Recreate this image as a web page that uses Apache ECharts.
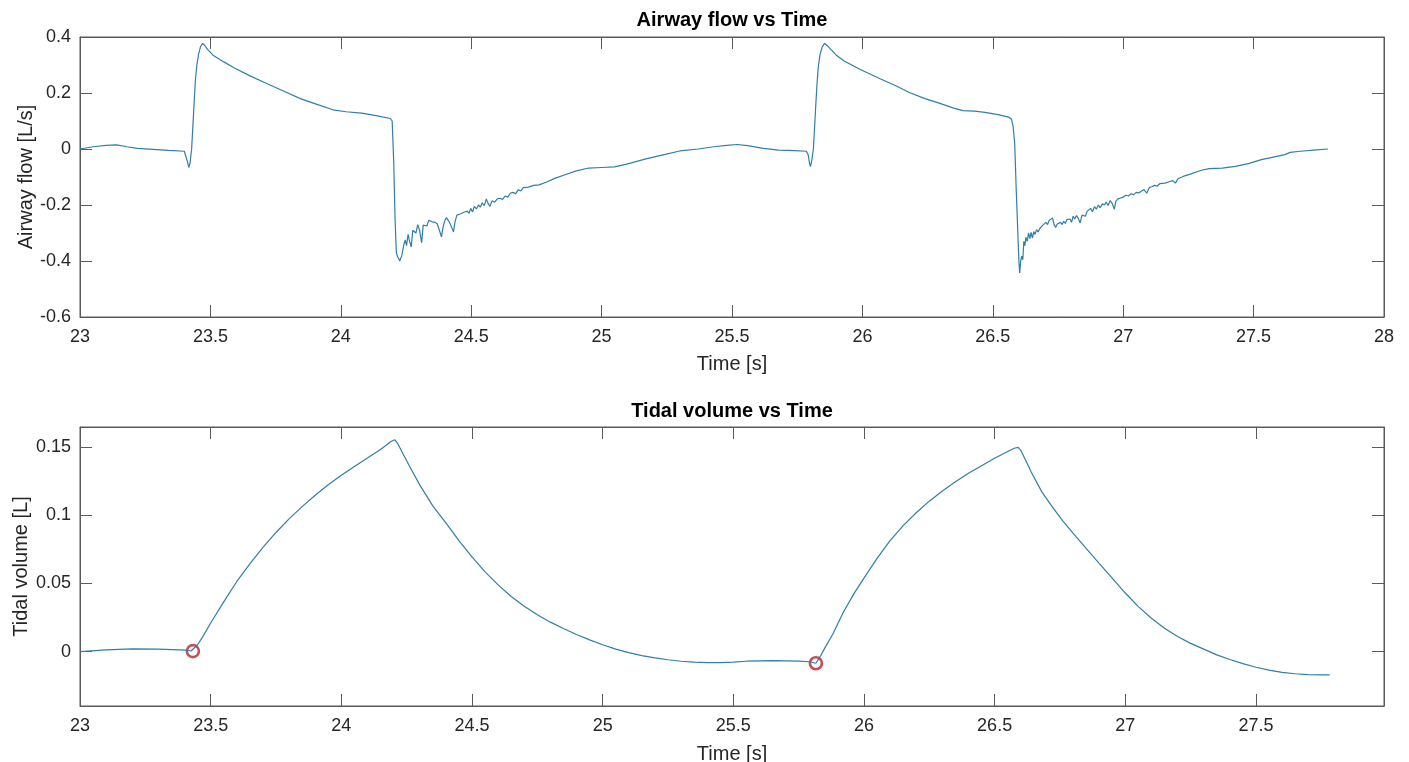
<!DOCTYPE html>
<html>
<head>
<meta charset="utf-8">
<script src="https://cdn.jsdelivr.net/npm/echarts@6/dist/echarts.min.js"></script>
<style>
html,body{margin:0;padding:0;background:#fff;}
#chart{width:1409px;height:762px;}
</style>
</head>
<body>
<div id="chart"></div>
<script>
// ---------- DATA ----------
const flowTime = [
23.00,23.05,23.10,23.14,23.18,23.22,23.28,23.34,23.40,23.405,23.412,23.417,23.422,23.428,23.435,23.442,23.448,23.455,23.462,23.47,
23.478,23.49,23.51,23.55,23.59,23.65,23.72,23.78,23.845,23.90,23.97,24.02,24.08,24.13,24.19,24.197,24.203,24.208,24.213,24.218,
24.226,24.234,24.242,24.247,24.252,24.258,24.264,24.270,24.276,24.282,24.288,24.295,24.302,24.310,24.316,24.322,24.330,24.337,24.343,24.350,
24.356,24.362,24.370,24.378,24.386,24.392,24.398,24.405,24.412,24.419,24.425,24.432,24.438,24.445,24.452,24.458,24.465,24.472,24.478,24.485,
24.492,24.498,24.505,24.512,24.52,24.528,24.535,24.542,24.55,24.558,24.565,24.572,24.58,24.59,24.60,24.61,24.62,24.63,24.64,24.65,
24.66,24.67,24.68,24.69,24.70,24.72,24.74,24.76,24.79,24.82,24.86,24.90,24.95,25.00,25.05,25.10,25.17,25.24,25.30,25.37,
25.43,25.48,25.52,25.56,25.62,25.68,25.74,25.785,
25.792,25.797,25.801,25.806,25.812,25.818,25.825,25.831,25.838,25.846,25.855,25.865,25.88,25.90,25.93,25.99,26.07,26.13,26.18,26.24,
26.30,26.35,26.385,26.43,26.47,26.52,26.56,26.572,26.578,26.584,26.59,26.596,26.600,26.603,26.607,26.611,26.615,26.619,26.623,26.627,
26.632,26.637,26.642,26.647,26.652,26.657,26.662,26.668,26.674,26.68,26.686,26.692,26.698,26.704,26.71,26.716,26.722,26.729,26.735,26.741,
26.747,26.753,26.76,26.766,26.772,26.778,26.784,26.79,26.796,26.802,26.808,26.814,26.821,26.828,26.835,26.842,26.848,26.855,26.862,26.868,
26.875,26.882,26.89,26.897,26.905,26.912,26.92,26.928,26.935,26.942,26.95,26.958,26.966,26.972,26.98,26.99,27.0,27.01,27.02,27.03,
27.04,27.05,27.06,27.07,27.08,27.09,27.10,27.11,27.12,27.13,27.14,27.16,27.18,27.19,27.2,27.21,27.23,27.26,27.30,27.33,
27.38,27.43,27.48,27.53,27.58,27.62,27.64,27.68,27.73,27.785
];
const flowValues = [
0.000,0.008,0.013,0.015,0.008,0.002,-0.001,-0.005,-0.008,-0.012,-0.045,-0.066,-0.05,0.0,0.12,0.24,0.30,0.34,0.365,0.377,
0.37,0.355,0.335,0.312,0.290,0.262,0.232,0.207,0.180,0.162,0.140,0.133,0.128,0.120,0.109,0.100,-0.05,-0.25,-0.37,-0.385,
-0.40,-0.38,-0.34,-0.325,-0.345,-0.305,-0.33,-0.35,-0.29,-0.283,-0.30,-0.27,-0.29,-0.335,-0.272,-0.265,-0.275,-0.255,-0.248,-0.26,
-0.255,-0.262,-0.268,-0.29,-0.314,-0.28,-0.258,-0.245,-0.255,-0.266,-0.27,-0.296,-0.26,-0.236,-0.24,-0.232,-0.238,-0.226,-0.232,-0.222,
-0.23,-0.212,-0.225,-0.205,-0.214,-0.2,-0.208,-0.192,-0.202,-0.178,-0.195,-0.205,-0.185,-0.19,-0.178,-0.176,-0.18,-0.168,-0.172,-0.158,
-0.155,-0.16,-0.146,-0.15,-0.138,-0.136,-0.13,-0.128,-0.118,-0.105,-0.092,-0.079,-0.068,-0.066,-0.064,-0.053,-0.035,-0.02,-0.007,0.0,
0.008,0.013,0.016,0.012,0.002,-0.004,-0.006,-0.008,
-0.02,-0.05,-0.063,-0.04,0.0,0.10,0.22,0.295,0.34,0.365,0.377,0.37,0.355,0.335,0.314,0.285,0.25,0.225,0.202,0.18,
0.162,0.146,0.137,0.135,0.131,0.123,0.114,0.106,0.08,0.02,-0.15,-0.30,-0.40,-0.443,-0.40,-0.383,-0.395,-0.33,-0.345,-0.315,
-0.33,-0.30,-0.32,-0.298,-0.318,-0.295,-0.305,-0.288,-0.296,-0.284,-0.29,-0.272,-0.276,-0.262,-0.27,-0.255,-0.262,-0.246,-0.27,-0.28,
-0.268,-0.275,-0.262,-0.27,-0.258,-0.266,-0.252,-0.258,-0.25,-0.262,-0.24,-0.25,-0.238,-0.248,-0.264,-0.236,-0.232,-0.24,-0.222,-0.228,
-0.212,-0.224,-0.206,-0.215,-0.2,-0.21,-0.196,-0.2,-0.19,-0.202,-0.184,-0.195,-0.215,-0.186,-0.178,-0.175,-0.172,-0.165,-0.168,-0.16,
-0.163,-0.155,-0.157,-0.15,-0.145,-0.158,-0.138,-0.135,-0.13,-0.133,-0.124,-0.122,-0.116,-0.113,-0.122,-0.106,-0.098,-0.089,-0.076,-0.07,
-0.068,-0.062,-0.052,-0.038,-0.028,-0.02,-0.012,-0.008,-0.004,0.0
];

const volTime = [
23.00,23.10,23.20,23.30,23.38,23.41,23.425,23.432,
23.45,23.47,23.50,23.55,23.60,23.65,23.70,23.75,23.80,23.85,23.90,23.95,24.00,24.05,24.10,24.15,24.19,24.205,
24.215,24.23,24.26,24.30,24.35,24.40,24.45,24.50,24.55,24.60,24.65,24.70,24.75,24.80,24.85,24.90,24.95,25.00,25.05,25.10,
25.15,25.20,25.25,25.30,25.35,25.40,25.45,25.50,25.55,25.60,25.65,25.70,25.75,25.79,25.816,
25.83,25.85,25.88,25.92,25.96,26.00,26.05,26.10,26.15,26.20,26.25,26.30,26.35,26.40,26.45,26.50,26.55,26.575,26.59,
26.60,26.615,26.64,26.68,26.72,26.76,26.80,26.85,26.90,26.95,27.00,27.05,27.10,27.15,27.20,27.25,27.30,27.35,27.40,27.45,
27.50,27.55,27.60,27.65,27.70,27.75,27.782
];
const volValues = [
0.0000,0.0012,0.0020,0.0018,0.0013,0.0010,0.0004,0.0003,
0.0050,0.0110,0.0210,0.0365,0.0515,0.0645,0.0765,0.0875,0.0975,0.1065,0.1148,0.1225,0.1295,0.1360,0.1422,0.1485,0.1543,0.1556,
0.1530,0.1475,0.1365,0.1225,0.1070,0.0945,0.0815,0.0695,0.0585,0.0490,0.0405,0.0333,0.0270,0.0216,0.0170,0.0125,0.0086,0.0050,0.0018,-0.0008,
-0.0030,-0.0047,-0.0060,-0.0071,-0.0078,-0.0081,-0.0081,-0.0077,-0.0071,-0.0068,-0.0067,-0.0068,-0.0071,-0.0075,-0.0086,
-0.0045,0.0025,0.0125,0.0285,0.0420,0.0540,0.0685,0.0815,0.0925,0.1020,0.1105,0.1180,0.1248,0.1310,0.1365,0.1420,0.1470,0.1494,0.1500,
0.1480,0.1420,0.1320,0.1175,0.1065,0.0962,0.0870,0.0758,0.0648,0.0540,0.0430,0.0330,0.0245,0.0172,0.0110,0.0060,0.0018,-0.0024,-0.0058,-0.0089,
-0.0115,-0.0137,-0.0153,-0.0163,-0.0169,-0.0171,-0.0172
];

const markerTime = [23.432, 25.816];
const markerValues = [0.0003, -0.0086];

const xTicks = [23, 23.5, 24, 24.5, 25, 25.5, 26, 26.5, 27, 27.5, 28];
const xTicksBottom = [23, 23.5, 24, 24.5, 25, 25.5, 26, 26.5, 27, 27.5];
const flowTicks = [-0.6, -0.4, -0.2, 0, 0.2, 0.4];
const volTicks = [0, 0.05, 0.1, 0.15];

// ---------- CHART ----------
const FONT = '"Liberation Sans", Arial, Helvetica, sans-serif';
const TXT = '#262626';
const AX = '#5a5a5a';
const LINE = '#2f7fa6';

function zip(a, b) { return a.map((v, i) => [v, b[i]]); }

function xAxisDef(grid, pos, ticks, max, showLabel, gap) {
  return {
    type: 'value', gridIndex: grid, position: pos, min: 23, max: max,
    axisLine: { show: true, onZero: false, lineStyle: { color: AX, width: 1 } },
    axisTick: { show: true, inside: true, length: 12, lineStyle: { color: AX }, customValues: ticks },
    axisLabel: { show: showLabel, customValues: ticks, fontSize: 18, color: TXT, fontFamily: FONT, margin: 11,
      formatter: v => String(+v.toFixed(2)) },
    splitLine: { show: false },
    name: showLabel ? 'Time [s]' : '', nameLocation: 'middle', nameGap: gap, nameMoveOverlap: false,
    nameTextStyle: { fontSize: 20, color: TXT, fontFamily: FONT }
  };
}
function yAxisDef(grid, pos, ticks, min, max, showLabel, name, gap) {
  return {
    type: 'value', gridIndex: grid, position: pos, min: min, max: max,
    axisLine: { show: true, onZero: false, lineStyle: { color: AX, width: 1 } },
    axisTick: { show: true, inside: true, length: 12, lineStyle: { color: AX }, customValues: ticks },
    axisLabel: { show: showLabel, customValues: ticks, fontSize: 18, color: TXT, fontFamily: FONT, margin: 9,
      formatter: v => String(+v.toFixed(3)) },
    splitLine: { show: false },
    name: showLabel ? name : '', nameLocation: 'middle', nameGap: gap, nameMoveOverlap: false,
    nameTextStyle: { fontSize: 20, color: TXT, fontFamily: FONT }
  };
}

const chart = echarts.init(document.getElementById('chart'), null, { renderer: 'canvas' });
chart.setOption({
  animation: false,
  backgroundColor: '#ffffff',
  title: [
    { text: 'Airway flow vs Time', left: 732, top: 10, textAlign: 'center', padding: 0,
      textStyle: { fontSize: 20, fontWeight: 'bold', color: '#000', fontFamily: FONT } },
    { text: 'Tidal volume vs Time', left: 732, top: 401, textAlign: 'center', padding: 0,
      textStyle: { fontSize: 20, fontWeight: 'bold', color: '#000', fontFamily: FONT } }
  ],
  grid: [
    { left: 80, width: 1304, top: 37, height: 280, show: true, borderColor: AX, borderWidth: 1,
      backgroundColor: '#fff', containLabel: false, outerBoundsMode: 'none' },
    { left: 80, width: 1304, top: 427, height: 279, show: true, borderColor: AX, borderWidth: 1,
      backgroundColor: '#fff', containLabel: false, outerBoundsMode: 'none' }
  ],
  xAxis: [
    xAxisDef(0, 'bottom', xTicks, 28, true, 37),
    xAxisDef(0, 'top', xTicks, 28, false, 0),
    xAxisDef(1, 'bottom', xTicksBottom, 27.99, true, 38),
    xAxisDef(1, 'top', xTicksBottom, 27.99, false, 0)
  ],
  yAxis: [
    yAxisDef(0, 'left', flowTicks, -0.6, 0.4, true, 'Airway flow [L/s]', 44),
    yAxisDef(0, 'right', flowTicks, -0.6, 0.4, false, '', 0),
    yAxisDef(1, 'left', volTicks, -0.04, 0.165, true, 'Tidal volume [L]', 49),
    yAxisDef(1, 'right', volTicks, -0.04, 0.165, false, '', 0)
  ],
  series: [
    { type: 'line', xAxisIndex: 0, yAxisIndex: 0, data: zip(flowTime, flowValues), showSymbol: false,
      lineStyle: { color: LINE, width: 1.2 }, itemStyle: { color: LINE } },
    { type: 'line', xAxisIndex: 2, yAxisIndex: 2, data: zip(volTime, volValues), showSymbol: false,
      lineStyle: { color: LINE, width: 1.2 }, itemStyle: { color: LINE } },
    { type: 'scatter', xAxisIndex: 2, yAxisIndex: 2, data: zip(markerTime, markerValues), symbol: 'circle', symbolSize: 12,
      itemStyle: { color: 'rgba(0,0,0,0)', borderColor: '#b8232b', borderWidth: 2.6 } }
  ]
});
</script>
</body>
</html>
